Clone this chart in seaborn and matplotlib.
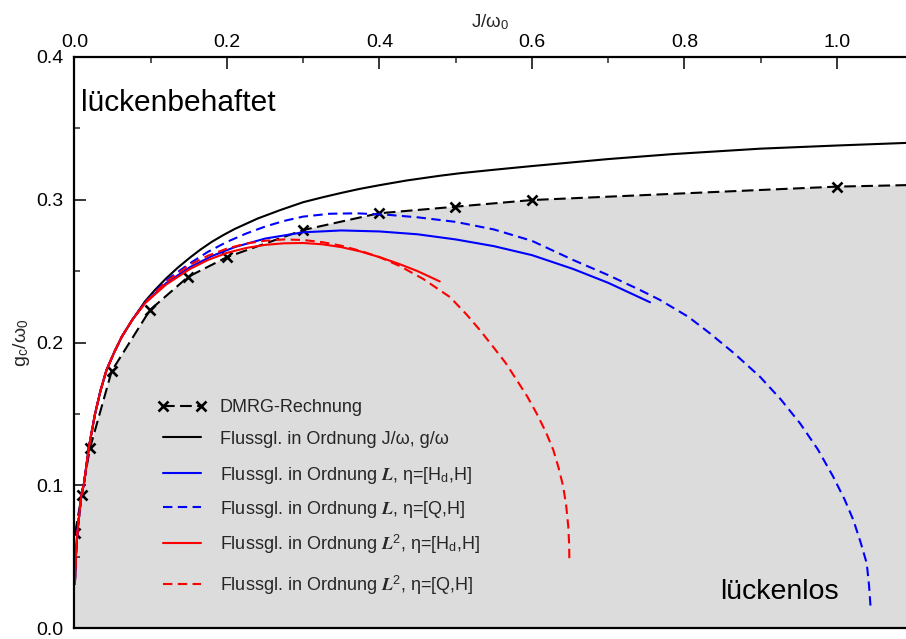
import numpy as np
import pandas as pd
import matplotlib
matplotlib.use("Agg")
import matplotlib.pyplot as plt
import seaborn as sns

# ---------------- data ----------------
dmrg_J = [0.001, 0.0094, 0.0203, 0.0488, 0.099, 0.149, 0.1996, 0.300, 0.399, 0.499, 0.600, 1.000, 1.200]
dmrg_g = [0.0668, 0.093, 0.1259, 0.180, 0.2228, 0.246, 0.2597, 0.2788, 0.2905, 0.2951, 0.2998, 0.3092, 0.3115]

# common rise near the origin (all flow-equation curves coincide here)
rise_J = [0.0005, 0.002, 0.004, 0.009, 0.0125, 0.019, 0.027, 0.034, 0.042, 0.052, 0.062, 0.076]
rise_g = [0.031, 0.052, 0.068, 0.093, 0.1014, 0.127, 0.150, 0.166, 0.1807, 0.193, 0.204, 0.216]

# Flussgleichung in Ordnung J/w, g/w (black solid)
black_J = rise_J + [0.0925, 0.105, 0.12, 0.135, 0.1515, 0.165, 0.18, 0.195, 0.21, 0.24, 0.27, 0.30, 0.326, 0.35, 0.374, 0.40,
                    0.4357, 0.479, 0.506, 0.55, 0.60, 0.70, 0.785, 0.90, 1.00, 1.10]
black_g = rise_g + [0.2288, 0.2365, 0.2448, 0.2522, 0.2595, 0.2650, 0.2705, 0.2752, 0.2795, 0.2868, 0.2928, 0.2983, 0.3018, 0.3048, 0.3076, 0.3102,
                    0.3135, 0.3168, 0.3186, 0.3210, 0.3236, 0.3285, 0.3320, 0.3358, 0.3380, 0.3400]

# Ordnung L, eta=[Hd,H] (blue solid)
blue_J = rise_J + [0.0925, 0.12, 0.1515, 0.18, 0.21, 0.25, 0.30, 0.35, 0.40, 0.45, 0.50, 0.55, 0.60, 0.654, 0.70, 0.7548]
blue_g = rise_g + [0.2278, 0.2415, 0.2528, 0.2605, 0.2668, 0.2728, 0.2772, 0.2785, 0.2778, 0.2758, 0.2722, 0.2675, 0.2612, 0.2515, 0.2418, 0.2282]

# Ordnung L, eta=[Q,H] (blue dashed)
blued_J = rise_J + [0.0925, 0.12, 0.1515, 0.175, 0.20, 0.225, 0.25, 0.275, 0.30, 0.335, 0.37, 0.41, 0.45, 0.50, 0.55, 0.60, 0.654, 0.70,
                    0.7416, 0.7679, 0.805, 0.8334, 0.866, 0.899, 0.9265, 0.9515, 0.975, 0.995, 1.01, 1.0214, 1.031, 1.039, 1.042, 1.044]
blued_g = rise_g + [0.2280, 0.2435, 0.2555, 0.2635, 0.2705, 0.2763, 0.2812, 0.2852, 0.2882, 0.2902, 0.2905, 0.2895, 0.2877, 0.2845, 0.2792, 0.2712, 0.2578, 0.2472,
                    0.2368, 0.2298, 0.218, 0.2064, 0.192, 0.176, 0.160, 0.1434, 0.125, 0.106, 0.090, 0.0757, 0.060, 0.0453, 0.030, 0.0149]

# Ordnung L^2, eta=[Hd,H] (red solid)
red_J = rise_J + [0.0925, 0.12, 0.1515, 0.175, 0.20, 0.225, 0.25, 0.275, 0.30, 0.325, 0.35, 0.375, 0.40, 0.425, 0.45, 0.479]
red_g = rise_g + [0.2275, 0.2405, 0.2515, 0.2578, 0.2628, 0.2662, 0.2684, 0.2695, 0.2697, 0.2688, 0.2668, 0.2638, 0.2598, 0.2552, 0.2500, 0.2428]

# Ordnung L^2, eta=[Q,H] (red dashed)
redd_J = rise_J + [0.0925, 0.12, 0.1515, 0.175, 0.20, 0.225, 0.25, 0.275, 0.30, 0.325, 0.35, 0.375, 0.40, 0.4269, 0.4574, 0.4925, 0.5144,
                   0.532, 0.549, 0.565, 0.58, 0.594, 0.606, 0.618, 0.628, 0.635, 0.641, 0.645, 0.6476, 0.6488, 0.649]
redd_g = rise_g + [0.2277, 0.2425, 0.2545, 0.2608, 0.2658, 0.2693, 0.2713, 0.2722, 0.2718, 0.2703, 0.2678, 0.2642, 0.2598, 0.2535, 0.2445, 0.2318, 0.2195,
                   0.2085, 0.197, 0.186, 0.1737, 0.162, 0.1504, 0.1375, 0.1247, 0.112, 0.099, 0.085, 0.071, 0.058, 0.0464]

labels = [
    "DMRG-Rechnung",
    "Flussgl. in Ordnung J/\u03c9, g/\u03c9",
    "Flussgl. in Ordnung $\\boldsymbol{L}$, \u03b7=[H$_{\\mathregular{d}}$,H]",
    "Flussgl. in Ordnung $\\boldsymbol{L}$, \u03b7=[Q,H]",
    "Flussgl. in Ordnung $\\boldsymbol{L}^{\\mathregular{2}}$, \u03b7=[H$_{\\mathregular{d}}$,H]",
    "Flussgl. in Ordnung $\\boldsymbol{L}^{\\mathregular{2}}$, \u03b7=[Q,H]",
]

x_ticks = [0.0, 0.2, 0.4, 0.6, 0.8, 1.0]
x_minor = [0.1, 0.3, 0.5, 0.7, 0.9]
y_ticks = [0.0, 0.1, 0.2, 0.3, 0.4]
y_minor = [0.05, 0.15, 0.25, 0.35]

# ---------------- style ----------------
sns.set_theme(style="white")
plt.rcParams["font.family"] = ["Liberation Sans", "DejaVu Sans"]
plt.rcParams["mathtext.fontset"] = "stix"
plt.rcParams["lines.dashed_pattern"] = [4.5, 2.6]

fig = plt.figure(figsize=(9.06, 6.39), dpi=100)
ax = fig.add_axes([0.0822, 0.0172, 1 - 0.0822, 0.9108 - 0.0172])

ax.fill_between(dmrg_J, dmrg_g, 0, color="#dcdcdc", lw=0, zorder=0)

lw = 1.5
sns.lineplot(x=dmrg_J, y=dmrg_g, ax=ax, color="black", lw=lw,
             linestyle=(0, (5.6, 2.6)),
             marker="x", markersize=6.5, markeredgewidth=1.9, markeredgecolor="black",
             label=labels[0], sort=False)
sns.lineplot(x=black_J, y=black_g, ax=ax, color="black", lw=lw, label=labels[1], sort=False)
sns.lineplot(x=blue_J, y=blue_g, ax=ax, color="#0000ff", lw=lw, label=labels[2], sort=False)
sns.lineplot(x=blued_J, y=blued_g, ax=ax, color="#0000ff", lw=lw, linestyle="--", label=labels[3], sort=False)
sns.lineplot(x=red_J, y=red_g, ax=ax, color="#ff0000", lw=lw, label=labels[4], sort=False)
sns.lineplot(x=redd_J, y=redd_g, ax=ax, color="#ff0000", lw=lw, linestyle="--", label=labels[5], sort=False)

ax.set_xlim(0, 1.0905)
ax.set_ylim(0, 0.4)

ax.xaxis.tick_top()
ax.xaxis.set_label_position("top")
ax.set_xticks(x_ticks)
ax.set_xticks(x_minor, minor=True)
ax.set_xticklabels([f"{v:.1f}" for v in x_ticks])
ax.set_yticks(y_ticks)
ax.set_yticks(y_minor, minor=True)
ax.set_yticklabels([f"{v:.1f}" for v in y_ticks])
ax.tick_params(axis="both", which="major", direction="in", length=8.6, width=1.1,
               labelsize=14, colors="black", pad=4)
ax.tick_params(axis="y", which="major", pad=8)
ax.tick_params(axis="both", which="minor", direction="in", length=4.3, width=1.1)
ax.tick_params(axis="x", which="both", top=True, bottom=False)
ax.tick_params(axis="y", which="both", left=True, right=False)

ax.set_xlabel("J/\u03c9$_{\\mathregular{0}}$", fontsize=13.5, labelpad=5)
ax.set_ylabel("g$_{\\mathregular{c}}$/\u03c9$_{\\mathregular{0}}$", fontsize=14, labelpad=3)

for s in ["top", "left", "bottom"]:
    ax.spines[s].set_visible(True)
    ax.spines[s].set_linewidth(1.6)
    ax.spines[s].set_color("black")
ax.spines["right"].set_visible(False)

ax.text(0.008, 0.368, "lückenbehaftet", fontsize=21.5, va="center", ha="left", color="black")
ax.text(0.924, 0.0255, "lückenlos", fontsize=20.5, va="center", ha="center", color="black")

# legend: one row per entry so the row spacing follows the reference
handles, hlabels = ax.get_legend_handles_labels()
if ax.get_legend() is not None:
    ax.get_legend().remove()
row_y = [0.3858, 0.3305, 0.2676, 0.2084, 0.1475, 0.0755]
for h, lab, yy in zip(handles, hlabels, row_y):
    leg = ax.legend([h], [lab], loc="center left", bbox_to_anchor=(0.1004, yy), frameon=False,
                    fontsize=13, numpoints=2, handlelength=2.7, handletextpad=0.72,
                    borderpad=0, borderaxespad=0)
    ax.add_artist(leg)
    ax.legend_ = None

fig.savefig("out.png", dpi=100)
